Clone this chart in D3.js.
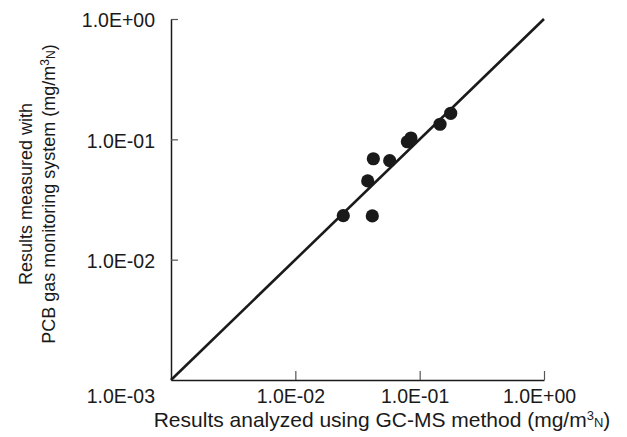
<!DOCTYPE html>
<html>
<head>
<meta charset="utf-8">
<script src="https://cdn.jsdelivr.net/npm/d3@7"></script>
<style>
  html, body { margin: 0; padding: 0; background: #fff; }
  svg { display: block; font-family: "Liberation Sans", Arial, Helvetica, sans-serif; }
</style>
</head>
<body>
<svg id="chart" width="627" height="437"></svg>
<script>
// ---- data ----
const gcmsValues    = [0.0243, 0.0416, 0.0382, 0.0424, 0.0574, 0.0796, 0.0851, 0.1458, 0.1777];
const monitorValues = [0.0232, 0.0231, 0.0451, 0.0690, 0.0665, 0.0955, 0.1026, 0.1334, 0.1646];
const xTickValues = [0.01, 0.1, 1];
const yTickValues = [0.001, 0.01, 0.1, 1];
const tickLabels = { 0.001: "1.0E-03", 0.01: "1.0E-02", 0.1: "1.0E-01", 1: "1.0E+00" };
const identityLine = [0.001, 1];

const svg = d3.select("#chart");
const mLeft = 171, mRight = 544, mTop = 19, mBottom = 380;
const ink = "#1a1a1a";

const x = d3.scaleLog().domain([0.001, 1]).range([mLeft, mRight]);
const y = d3.scaleLog().domain([0.001, 1]).range([mBottom, mTop]);

// x axis
const xAxis = svg.append("g")
  .attr("transform", `translate(0,${mBottom})`)
  .call(d3.axisBottom(x).tickValues(xTickValues).tickFormat(d => tickLabels[d])
    .tickSizeInner(-9).tickSizeOuter(0).tickPadding(9));
xAxis.select(".domain").attr("stroke", ink).attr("stroke-width", 1.5);
xAxis.selectAll(".tick line").attr("stroke", "#555").attr("stroke-width", 1.2);
xAxis.selectAll(".tick text").attr("font-size", 19.5).attr("fill", ink).attr("dx", -5)
  .attr("font-family", "Liberation Sans, Arial, sans-serif");

// y axis
const yAxis = svg.append("g")
  .attr("transform", `translate(${mLeft},0)`)
  .call(d3.axisLeft(y).tickValues(yTickValues).tickFormat(d => tickLabels[d])
    .tickSizeInner(-7).tickSizeOuter(0).tickPadding(16));
yAxis.select(".domain").attr("stroke", ink).attr("stroke-width", 1.5);
yAxis.selectAll(".tick line").attr("stroke", "#555").attr("stroke-width", 1.2);
yAxis.selectAll(".tick text").attr("font-size", 19.5).attr("fill", ink).attr("dy", "0.4em")
  .attr("font-family", "Liberation Sans, Arial, sans-serif");
// the 1.0E-03 label sits on the x-label row
yAxis.selectAll(".tick").filter(d => d === 0.001).select("text").attr("dy", "1.17em");
yAxis.selectAll(".tick").filter(d => d === 0.001).select("line").remove();

// identity line
svg.append("path")
  .datum(identityLine)
  .attr("d", d3.line().x(d => x(d)).y(d => y(d)))
  .attr("stroke", ink).attr("stroke-width", 2.6).attr("fill", "none");

// points
svg.append("g").selectAll("circle")
  .data(gcmsValues.map((v, i) => [v, monitorValues[i]]))
  .join("circle")
  .attr("cx", d => x(d[0])).attr("cy", d => y(d[1])).attr("r", 6.6)
  .attr("fill", ink);

// x title
const xt = svg.append("text")
  .attr("x", 382).attr("y", 427).attr("text-anchor", "middle")
  .attr("font-size", 21).attr("fill", ink);
xt.append("tspan").text("Results analyzed using GC-MS method (mg/m");
xt.append("tspan").attr("font-size", 13).attr("dy", -7).text("3");
xt.append("tspan").attr("font-size", 13).attr("dy", 7).text("N");
xt.append("tspan").text(")");

// y title (two lines)
const yt = svg.append("g").attr("transform", "translate(0,194) rotate(-90)");
yt.append("text").attr("x", 0).attr("y", 32).attr("text-anchor", "middle")
  .attr("font-size", 18).attr("fill", ink).text("Results measured with");
const yt2 = yt.append("text").attr("x", 0).attr("y", 55).attr("text-anchor", "middle")
  .attr("font-size", 18).attr("fill", ink);
yt2.append("tspan").text("PCB gas monitoring system (mg/m");
yt2.append("tspan").attr("font-size", 12).attr("dy", -6).text("3");
yt2.append("tspan").attr("font-size", 12).attr("dy", 6).text("N");
yt2.append("tspan").text(")");
</script>
</body>
</html>
